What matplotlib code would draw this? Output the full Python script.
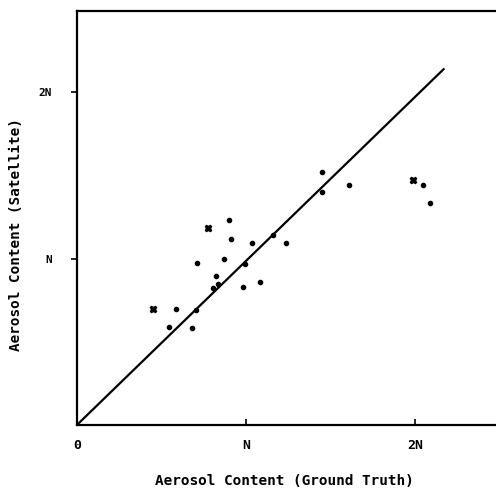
import numpy as np
import matplotlib
matplotlib.use("Agg")
import matplotlib.pyplot as plt

# ground truth (x) vs satellite (y), in units of N
dot_x = [0.899, 0.909, 1.037, 1.238, 1.158, 0.710, 0.872, 0.994, 0.824, 0.836,
         0.807, 0.984, 1.081, 0.584, 0.702, 0.544, 0.679, 1.448, 1.448, 1.608,
         2.051, 2.091]
dot_y = [1.233, 1.119, 1.095, 1.092, 1.143, 0.972, 0.998, 0.970, 0.898, 0.849,
         0.823, 0.830, 0.861, 0.695, 0.693, 0.590, 0.583, 1.522, 1.399, 1.446,
         1.442, 1.337]
cross_x = [0.773, 0.451, 1.990]
cross_y = [1.185, 0.697, 1.476]
line_x = [0.0, 2.17]
line_y = [0.0, 2.14]

tick_vals = [0, 1, 2]
tick_labels = ["0", "N", "2N"]

plt.rcParams["font.family"] = ["DejaVu Sans Mono"]
plt.rcParams["font.weight"] = "bold"

fig = plt.figure(figsize=(4.96, 4.91), dpi=100)
ax = fig.add_axes([0.155, 0.1344, 0.845, 0.8432])

ax.plot(line_x, line_y, color="black", linewidth=1.6)
ax.plot(dot_x, dot_y, "o", color="black", markersize=3.0)
ax.plot(cross_x, cross_y, "X", color="black", markersize=4.5)

ax.set_xlim(0, 2.48)
ax.set_ylim(0, 2.49)

for s in ["left", "bottom", "top"]:
    ax.spines[s].set_linewidth(1.6)
ax.spines["right"].set_visible(False)

ax.set_xticks(tick_vals)
ax.set_xticklabels(tick_labels, fontsize=9.5, fontweight="bold")
ax.set_yticks(tick_vals[1:])
ax.set_yticklabels(tick_labels[1:], fontsize=8, fontweight="bold")
ax.tick_params(axis="x", direction="in", length=4, width=1.2, pad=10)
ax.tick_params(axis="y", direction="out", length=4, width=1.2, pad=14)

ax.set_xlabel("Aerosol Content (Ground Truth)", fontsize=10.4, fontweight="bold")
ax.set_ylabel("Aerosol Content (Satellite)", fontsize=10.3, fontweight="bold")
ax.xaxis.set_label_coords(0.494, -0.118)
ax.yaxis.set_label_coords(-0.128, 0.461)

fig.savefig("out.png", dpi=100)
